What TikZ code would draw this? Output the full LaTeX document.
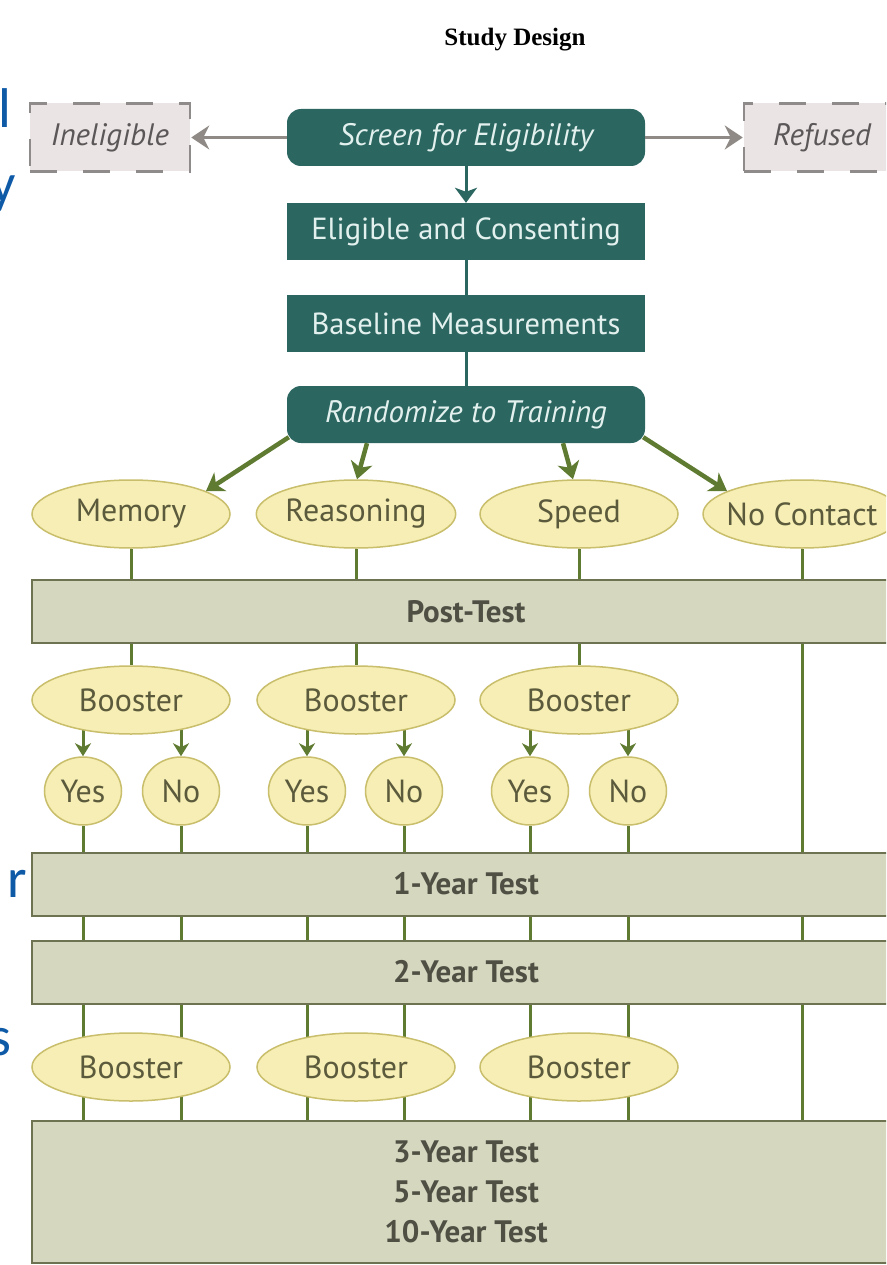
\documentclass[tikz,border=0pt]{standalone}
\usepackage{fontspec}
\setmainfont{PT Sans}
\newfontfamily\titlefont{Liberation Serif}
\newfontfamily\slidefont{Carlito}
\usetikzlibrary{arrows.meta,shapes.geometric,calc}
\definecolor{teal}{HTML}{2C6661}
\definecolor{tealtext}{HTML}{E3F1EE}
\definecolor{ellfill}{HTML}{F6EEB4}
\definecolor{elldraw}{HTML}{C9BE6B}
\definecolor{elltext}{HTML}{5B5A3C}
\definecolor{conn}{HTML}{5F7A31}
\definecolor{boxfill}{HTML}{D6D7BF}
\definecolor{boxdraw}{HTML}{6D7350}
\definecolor{boxtext}{HTML}{4F4F44}
\definecolor{dashfill}{HTML}{EAE4E4}
\definecolor{dashdraw}{HTML}{8F8B8B}
\definecolor{dashtext}{HTML}{5B5657}
\definecolor{grayarrow}{HTML}{8F8A85}
\definecolor{slideblue}{HTML}{0E5AA7}
\pgfdeclarelayer{bg}
\pgfsetlayers{bg,main}
\tikzset{
  tealbox/.style={fill=teal, draw=none, text=tealtext, minimum width=358pt, minimum height=57pt, inner sep=0pt, font=\fontsize{30.5}{34}\selectfont},
  tealround/.style={tealbox, rounded corners=14pt, font=\fontsize{31}{34}\selectfont\itshape},
  dashbox/.style={fill=dashfill, draw=dashdraw, line width=2.5pt, dash pattern=on 27pt off 26pt, text=dashtext, minimum height=68pt, inner sep=0pt, font=\fontsize{31}{34}\selectfont\itshape},
  oval/.style={ellipse, fill=ellfill, draw=elldraw, line width=1.5pt, text=elltext, minimum width=198pt, minimum height=68pt, inner sep=0pt, font=\fontsize{32}{34}\selectfont},
  yn/.style={oval, minimum width=77pt, minimum height=68pt},
  band/.style={fill=boxfill, draw=boxdraw, line width=2pt, text=boxtext, minimum width=868pt, minimum height=63pt, inner sep=0pt, font=\fontsize{31}{40}\selectfont\bfseries},
  vline/.style={draw=conn, line width=3pt},
  bigarrow/.style={draw=conn, line width=4.5pt, -{Stealth[length=17pt,width=22pt,inset=5pt]}},
  smallarrow/.style={draw=conn, line width=3pt, -{Stealth[length=13pt,width=16pt,inset=4pt]}},
  tealarrow/.style={draw=teal, line width=3pt, -{Stealth[length=15pt,width=22pt,inset=4pt]}},
  tealline/.style={draw=teal, line width=3pt},
  grayarr/.style={draw=grayarrow, line width=3pt, -{Stealth[length=18pt,width=24pt,inset=6pt]}},
  frag/.style={anchor=base east, inner sep=0pt, text=slideblue, font=\slidefont\fontsize{56}{60}\selectfont}
}
\begin{document}
\begin{tikzpicture}[x=1pt,y=-1pt]
\useasboundingbox (0,0) rectangle (886,1265);
\clip (0,0) rectangle (886,1265);

% title
\node[inner sep=0pt, font=\titlefont\bfseries\fontsize{25}{28}\selectfont] (title) at (515,40) {Study Design};

% slide fragments at left edge
\node[frag] (fa) at (12,128) {l};
\node[frag] (fb) at (16,203) {y};
\node[frag] (fc) at (27,897) {r};
\node[frag] (fd) at (12,1055) {s};

% top flow
\node[tealround] (screen) at (466,137.5) {Screen for Eligibility};
\node[tealbox] (elig) at (466,231.5) {Eligible and Consenting};
\node[tealbox] (base) at (466,323.5) {Baseline Measurements};
\node[tealround] (rand) at (466,414.5) {Randomize to Training};
\node[dashbox, minimum width=160pt] (inel) at (110,137.5) {Ineligible};
\node[dashbox, minimum width=156pt] (ref) at (822,137.5) {Refused};

% training arms
\node[oval] (mem) at (131,514) {Memory};
\node[oval] (reas) at (356,514) {Reasoning};
\node[oval] (spd) at (579,514) {Speed};
\node[oval] (nc) at (802,514) {\makebox[0pt]{No Contact}};

\node[band] (post) at (466,611.5) {Post-Test};

\node[oval] (b1) at (131,700) {Booster};
\node[oval] (b2) at (356,700) {Booster};
\node[oval] (b3) at (579,700) {Booster};

\node[yn] (y1) at (83,791) {Yes};
\node[yn] (n1) at (181,791) {No};
\node[yn] (y2) at (307,791) {Yes};
\node[yn] (n2) at (404,791) {No};
\node[yn] (y3) at (530,791) {Yes};
\node[yn] (n3) at (628,791) {No};

\node[band] (t1) at (466,884) {1-Year Test};
\node[band] (t2) at (466,972) {2-Year Test};

\node[oval] (b4) at (131,1067) {Booster};
\node[oval] (b5) at (356,1067) {Booster};
\node[oval] (b6) at (579,1067) {Booster};

\node[band, minimum height=142pt, align=center] (t3) at (466,1192) {3-Year Test\\5-Year Test\\10-Year Test};

% connectors
\draw[tealarrow] (screen.south) -- (elig.north);
\draw[tealline] (elig.south) -- (base.north);
\draw[tealline] (base.south) -- (rand.north);
\draw[grayarr] (screen.west) -- (inel.east);
\draw[grayarr] (screen.east) -- (ref.west);

\draw[bigarrow] ([shift={(2,-6)}]rand.south west) -- (mem.17);
\draw[bigarrow] ([xshift=-99pt]rand.south) -- ([xshift=1pt]reas.north);
\draw[bigarrow] ([xshift=97pt]rand.south) -- ([xshift=-6pt]spd.north);
\draw[bigarrow] ([shift={(-2,-6)}]rand.south east) -- (nc.163);

\begin{pgfonlayer}{bg}
  \fill[white] (0,0) rectangle (886,1265);
  \draw[vline] (mem) -- (b1);
  \draw[vline] (reas) -- (b2);
  \draw[vline] (spd) -- (b3);
  \draw[vline] (nc) -- (nc |- t3);
  \foreach \n in {y1,n1,y2,n2,y3,n3} {
    \draw[vline] (\n) -- (\n |- t3);
  }
  \draw[smallarrow] (y1 |- b1) -- (y1.north);
  \draw[smallarrow] (n1 |- b1) -- (n1.north);
  \draw[smallarrow] (y2 |- b2) -- (y2.north);
  \draw[smallarrow] (n2 |- b2) -- (n2.north);
  \draw[smallarrow] (y3 |- b3) -- (y3.north);
  \draw[smallarrow] (n3 |- b3) -- (n3.north);
\end{pgfonlayer}
\end{tikzpicture}
\end{document}
